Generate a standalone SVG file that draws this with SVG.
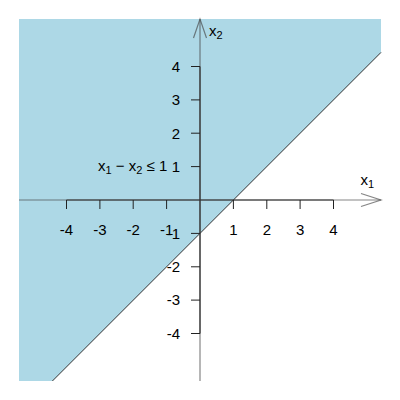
<svg xmlns="http://www.w3.org/2000/svg" width="400" height="400" viewBox="0 0 400 400">
<style>
text{font-family:"Liberation Sans",Arial,sans-serif;font-size:15px;fill:#000}
.xl{text-anchor:middle}
.yl{text-anchor:end}
.ax{stroke:#444;stroke-opacity:0.65;stroke-width:1.2;fill:none}
.axd{stroke:#333;stroke-width:1.2;fill:none}
.tk{stroke:#222;stroke-width:1}
</style>
<rect x="0" y="0" width="400" height="400" fill="#fff"/>
<g id="region">
<polygon points="19,19 381,19 381,52.4 52.4,381 19,381" fill="#ADD8E6"/>
<line x1="52.4" y1="381" x2="381" y2="52.4" stroke="#333" stroke-width="1"/>
</g>
<g id="axes">
<line class="ax" x1="19" y1="200" x2="381" y2="200"/>
<polyline class="ax" points="361,193.5 381,200 361,206.5"/>
<line class="ax" x1="200" y1="381" x2="200" y2="19"/>
<polyline class="ax" points="193.5,38 200,19 206.5,38"/>
<line class="axd" x1="66.5" y1="200" x2="333.5" y2="200"/>
<line class="axd" x1="200" y1="66.5" x2="200" y2="333.5"/>
<g class="tk">
<line x1="66.5" y1="200" x2="66.5" y2="209"/>
<line x1="99.9" y1="200" x2="99.9" y2="209"/>
<line x1="133.2" y1="200" x2="133.2" y2="209"/>
<line x1="166.6" y1="200" x2="166.6" y2="209"/>
<line x1="233.4" y1="200" x2="233.4" y2="209"/>
<line x1="266.8" y1="200" x2="266.8" y2="209"/>
<line x1="300.1" y1="200" x2="300.1" y2="209"/>
<line x1="333.5" y1="200" x2="333.5" y2="209"/>
<line x1="191" y1="66.5" x2="200" y2="66.5"/>
<line x1="191" y1="99.9" x2="200" y2="99.9"/>
<line x1="191" y1="133.2" x2="200" y2="133.2"/>
<line x1="191" y1="166.6" x2="200" y2="166.6"/>
<line x1="191" y1="233.4" x2="200" y2="233.4"/>
<line x1="191" y1="266.8" x2="200" y2="266.8"/>
<line x1="191" y1="300.1" x2="200" y2="300.1"/>
<line x1="191" y1="333.5" x2="200" y2="333.5"/>
</g>
</g>
<g id="xlabels">
<text class="xl" x="66.5" y="235">-4</text>
<text class="xl" x="99.9" y="235">-3</text>
<text class="xl" x="133.2" y="235">-2</text>
<text class="xl" x="166.6" y="235">-1</text>
<text class="xl" x="233.4" y="235">1</text>
<text class="xl" x="266.8" y="235">2</text>
<text class="xl" x="300.1" y="235">3</text>
<text class="xl" x="333.5" y="235">4</text>
</g>
<g id="ylabels">
<text class="yl" x="180" y="71.8">4</text>
<text class="yl" x="180" y="105.2">3</text>
<text class="yl" x="180" y="138.5">2</text>
<text class="yl" x="180" y="171.9">1</text>
<text class="yl" x="180" y="238.7">-1</text>
<text class="yl" x="180" y="272.1">-2</text>
<text class="yl" x="180" y="305.4">-3</text>
<text class="yl" x="180" y="338.8">-4</text>
</g>
<g id="axis-names">
<text x="360.5" y="185">x<tspan font-size="11" dy="3">1</tspan></text>
<text x="209" y="36">x<tspan font-size="11" dy="3">2</tspan></text>
</g>
<g id="inequality">
<text x="98" y="171">x<tspan font-size="11" dy="3">1</tspan><tspan dy="-3"> − x</tspan><tspan font-size="11" dy="3">2</tspan><tspan dy="-3"> ≤ 1</tspan></text>
</g>
</svg>
